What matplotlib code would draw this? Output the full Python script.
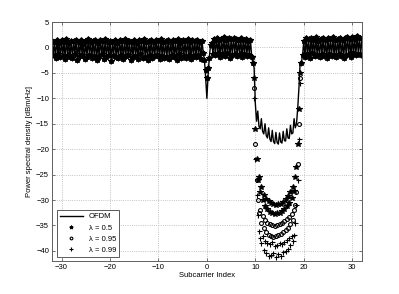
import numpy as np
import matplotlib
matplotlib.use('Agg')
import matplotlib.pyplot as plt

plt.rcParams['font.family'] = ['Liberation Sans', 'DejaVu Sans']

# subcarrier positions, 0.25 step
x_left = np.arange(-32, -0.9, 0.25)
x_dip = np.arange(-0.75, 0.8, 0.25)
x_mid = np.arange(1, 9.6, 0.25)
x_notch = np.arange(9.75, 19.3, 0.25)
x_right = np.arange(19.5, 32.1, 0.25)

# PSD values [dBm/Hz]
band_left = [1.3, -1.5, 1.0, -2.1, 1.5, -1.2, 0.8, -1.9, 1.4, -1.6,
             1.1, -2.3, 1.6, -1.4, 0.9, -1.8, 1.3, -2.0, 1.2, -1.3,
             1.5, -2.4, 1.0, -1.7, 1.4, -1.5, 0.7, -2.2, 1.3, -1.8,
             1.6, -1.4, 1.1, -2.0, 1.2, -1.6, 1.5, -2.5, 0.9, -1.7,
             1.4, -1.3, 1.2, -2.2, 1.6, -1.9, 1.0, -1.5, 1.3, -2.6,
             1.1, -1.6, 1.5, -1.8, 0.8, -2.1, 1.4, -1.4, 1.2, -2.3,
             1.6, -1.7, 1.0, -1.5, 1.3, -2.4, 1.1, -1.9, 1.5, -1.6,
             0.9, -2.2, 1.4, -1.3, 1.2, -2.0, 1.6, -1.8, 1.0, -2.5,
             1.3, -1.5, 1.5, -2.1, 1.1, -1.7, 1.4, -1.4, 1.2, -2.3,
             1.7, -1.6, 1.0, -2.0, 1.3, -1.8, 1.5, -2.2, 1.1, -1.5,
             1.4, -1.9, 1.2, -2.4, 1.6, -1.3, 0.9, -2.1, 1.5, -1.7,
             1.2, -2.0, 1.7, -1.5, 1.1, -2.3, 1.4, -1.6, 1.3, -1.9,
             1.5, -1.4, 1.0, -2.2, 1.2]
dip_ofdm = [-1.0, -2.5, -6.0, -10.0, -5.5, -2.0, 0.5]
dip_mark = [-1.0, -2.5, -4.5, -6.0, -4.0, -2.0, 0.5]
band_mid = [0.8, -1.2, 1.6, -1.5, 1.9, -1.0, 1.4, -1.8, 1.7, -1.3,
            2.0, -1.6, 1.5, -1.1, 1.8, -2.0, 1.6, -1.4, 1.9, -1.2,
            1.7, -1.7, 1.4, -1.3, 1.8, -1.9, 1.5, -1.2, 1.6, -1.6,
            1.3, -1.4, 1.5, -1.8, -3.0]
band_right = [-3.0, -1.5, 1.2, -1.8, 1.9, -1.3, 1.6, -2.0, 1.8, -1.1,
              1.5, -1.7, 2.0, -1.4, 1.3, -1.9, 1.7, -1.2, 1.9, -1.6,
              1.4, -2.1, 1.8, -1.3, 1.6, -1.7, 2.0, -1.5, 1.5, -1.9,
              1.7, -1.2, 1.9, -1.6, 1.4, -2.0, 1.8, -1.4, 2.1, -1.3,
              1.6, -1.8, 2.0, -1.1, 1.7, -1.5, 2.2, -1.2, 1.9, -1.4,
              1.8]

notch_ofdm = [-4.0, -11.0, -14.5, -12.5, -15.5, -16.0, -14.0, -16.5, -17.0, -15.0,
              -17.3, -17.8, -15.8, -18.0, -18.5, -16.3, -18.5, -18.9, -16.7, -18.7,
              -19.0, -16.8, -18.6, -18.8, -16.5, -18.3, -18.4, -16.0, -17.8, -17.9,
              -15.3, -17.0, -16.8, -14.0, -15.8, -15.0, -12.0, -8.0, -3.0]
notch_l050 = [-6, -16, -22, -26, -25.5, -28.5, -27.5, -30, -29, -31.2,
              -29.8, -31.8, -30.2, -32.4, -30.6, -32.6, -30.8, -32.8, -31.0, -32.6,
              -30.7, -32.5, -30.8, -32.2, -30.3, -31.8, -29.8, -31.2, -29.2, -30.6,
              -28.4, -29.6, -27.4, -28.2, -25.5, -23.5, -19.0, -12.0, -5.0]
notch_l095 = [-8, -19, -26, -30, -32.5, -32.0, -34.5, -33.2, -35.5, -34.0,
              -36.3, -34.5, -36.8, -34.8, -37.0, -35.0, -37.2, -35.2, -37.0, -35.0,
              -36.8, -34.8, -36.6, -34.5, -36.2, -34.2, -35.8, -33.8, -35.5, -33.4,
              -34.8, -32.8, -34.0, -32.0, -31.0, -28.5, -23.0, -15.0, -6.0]
notch_l099 = [-10, -22, -29, -33, -36, -37.5, -38.5, -37.0, -39.8, -38.0,
              -40.5, -38.4, -41.0, -38.6, -40.8, -38.2, -40.4, -39.0, -41.2, -38.8,
              -40.6, -38.5, -41.0, -38.7, -40.3, -38.2, -40.0, -37.8, -39.6, -37.5,
              -38.9, -37.0, -38.0, -36.8, -34.5, -31.0, -26.0, -18.0, -7.0]

sc_index = np.concatenate([x_left, x_dip, x_mid, x_notch, x_right])
ofdm_y = np.concatenate([band_left, dip_ofdm, band_mid, notch_ofdm, band_right])
series = [(notch_l050, '*', 3.8, 'λ = 0.5'),
          (notch_l095, 'o', 2.8, 'λ = 0.95'),
          (notch_l099, '+', 3.6, 'λ = 0.99')]

fig = plt.figure(figsize=(3.99, 2.94), dpi=100)
ax = fig.add_axes([0.130, 0.112, 0.777, 0.813])

ax.plot(sc_index, ofdm_y, color='black', linewidth=1.0, label='OFDM')
for notch, mk, ms, lab in series:
    y = np.concatenate([band_left, dip_mark, band_mid, notch, band_right])
    ax.plot(sc_index, y, linestyle='none', marker=mk, markersize=ms,
            markerfacecolor='black' if mk == '*' else 'none',
            markeredgecolor='black', markeredgewidth=0.8, label=lab)

ax.set_xlim(-32, 32)
ax.set_ylim(-42, 5)
ax.set_xticks([-30, -20, -10, 0, 10, 20, 30])
ax.set_yticks([-40, -35, -30, -25, -20, -15, -10, -5, 0, 5])
ax.grid(True, linestyle=':', color='#b0b0b0', linewidth=0.6)
ax.tick_params(direction='in', length=2.5, width=0.5, labelsize=5.5,
               top=True, right=True, colors='#404040', labelcolor='black', pad=2)
for s in ax.spines.values():
    s.set_color('#606060')
    s.set_linewidth(0.7)

ax.set_xlabel('Subcarrier Index', fontsize=5.5, labelpad=1)
ax.set_ylabel('Power spectral density [dBm/Hz]', fontsize=5.5, labelpad=2)

leg = ax.legend(loc='lower left', bbox_to_anchor=(0.016, 0.017), borderaxespad=0,
                fontsize=5.5, fancybox=False, edgecolor='#404040', framealpha=1,
                handlelength=3.0, borderpad=0.4, labelspacing=0.5, markerscale=0.7)
leg.get_frame().set_linewidth(0.6)

fig.savefig('out.png', dpi=100)
